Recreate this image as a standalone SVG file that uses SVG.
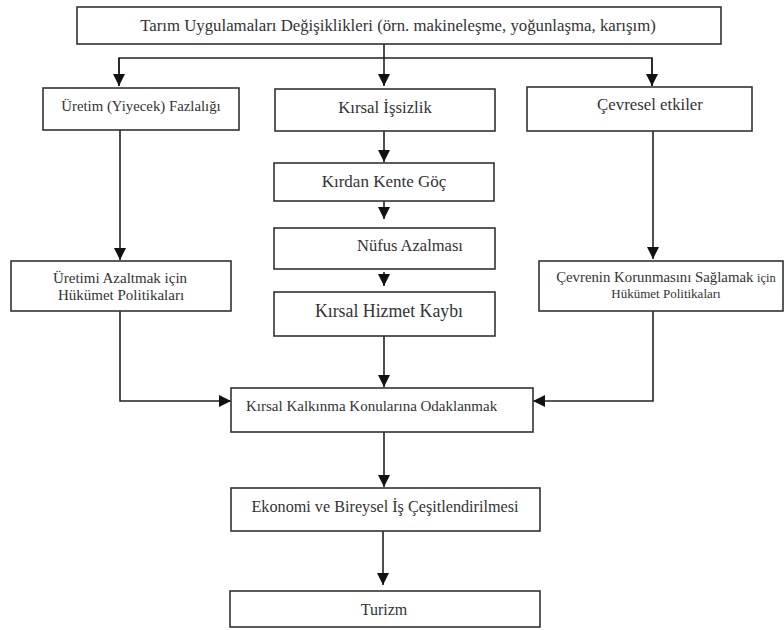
<svg xmlns="http://www.w3.org/2000/svg" width="784" height="630" viewBox="0 0 784 630">
<style>
.box{fill:#fff;stroke:#333;stroke-width:1.6}
.t{fill:#333;text-anchor:middle}
.c{fill:none;stroke:#222;stroke-width:1.6}
</style>
<defs>
<marker id="ah" markerUnits="userSpaceOnUse" markerWidth="12" markerHeight="12" viewBox="0 0 12 12" refX="12" refY="6" orient="auto">
<path d="M0,0 L12,6 L0,12 z" fill="#111"/>
</marker>
</defs>
<rect width="784" height="630" fill="#fff"/>
<g id="connectors">
<path class="c" d="M384,30 V86" marker-end="url(#ah)"/>
<path class="c" d="M119,86 V58 H652 V86" />
<path class="c" d="M119,58 V86" marker-end="url(#ah)"/>
<path class="c" d="M652,58 V86" marker-end="url(#ah)"/>
<path class="c" d="M120,130 V260" marker-end="url(#ah)"/>
<path class="c" d="M653,131 V259" marker-end="url(#ah)"/>
<path class="c" d="M384,131 V162" marker-end="url(#ah)"/>
<path class="c" d="M384,201 V219" marker-end="url(#ah)"/>
<path class="c" d="M384,272 V286" marker-end="url(#ah)"/>
<path class="c" d="M384,336 V387" marker-end="url(#ah)"/>
<path class="c" d="M120,311 V401 H231" marker-end="url(#ah)"/>
<path class="c" d="M653,311 V401 H533" marker-end="url(#ah)"/>
<path class="c" d="M384,432 V487" marker-end="url(#ah)"/>
<path class="c" d="M383,531 V585" marker-end="url(#ah)"/>
</g>
<g font-family="'Liberation Serif', 'Times New Roman', serif">
<g id="n-top"><rect class="box" x="77" y="7" width="644" height="37"/><text class="t" x="398" y="31" font-size="16.8">Tarım Uygulamaları Değişiklikleri (örn. makineleşme, yoğunlaşma, karışım)</text></g>
<g id="n-uretim"><rect class="box" x="43" y="88" width="196" height="42"/><text class="t" x="141" y="111" font-size="14.8">Üretim (Yiyecek) Fazlalığı</text></g>
<g id="n-issizlik"><rect class="box" x="275" y="89" width="220" height="42"/><text class="t" x="385" y="113" font-size="16.8">Kırsal İşsizlik</text></g>
<g id="n-cevresel"><rect class="box" x="527" y="87" width="225" height="44"/><text class="t" x="650" y="110" font-size="16.8">Çevresel etkiler</text></g>
<g id="n-goc"><rect class="box" x="274" y="163" width="220" height="38"/><text class="t" x="384" y="187" font-size="17">Kırdan Kente Göç</text></g>
<g id="n-nufus"><rect class="box" x="274" y="228" width="221" height="41"/><text class="t" x="410" y="251" font-size="16.5">Nüfus Azalması</text></g>
<g id="n-hizmet"><rect class="box" x="274" y="292" width="221" height="44"/><text class="t" x="389" y="317" font-size="17.8">Kırsal Hizmet Kaybı</text></g>
<g id="n-hukumet1"><rect class="box" x="11" y="261" width="220" height="50"/><text class="t" x="120" y="283" font-size="15">Üretimi Azaltmak için</text><text class="t" x="121" y="300" font-size="15">Hükümet Politikaları</text></g>
<g id="n-hukumet2"><rect class="box" x="539" y="261" width="244" height="50"/><text class="t" x="666" y="282" font-size="14.8">Çevrenin Korunmasını Sağlamak <tspan font-size="12.5">için</tspan></text><text class="t" x="666" y="298" font-size="13">Hükümet Politikaları</text></g>
<g id="n-kalkinma"><rect class="box" x="231" y="388" width="302" height="44"/><text class="t" x="246" y="411" font-size="15" style="text-anchor:start">Kırsal Kalkınma Konularına Odaklanmak</text></g>
<g id="n-ekonomi"><rect class="box" x="231" y="488" width="309" height="43"/><text class="t" x="385" y="512" font-size="16.2">Ekonomi ve Bireysel İş Çeşitlendirilmesi</text></g>
<g id="n-turizm"><rect class="box" x="230" y="591" width="310" height="36"/><text class="t" x="384" y="615" font-size="16">Turizm</text></g>
</g>
</svg>
